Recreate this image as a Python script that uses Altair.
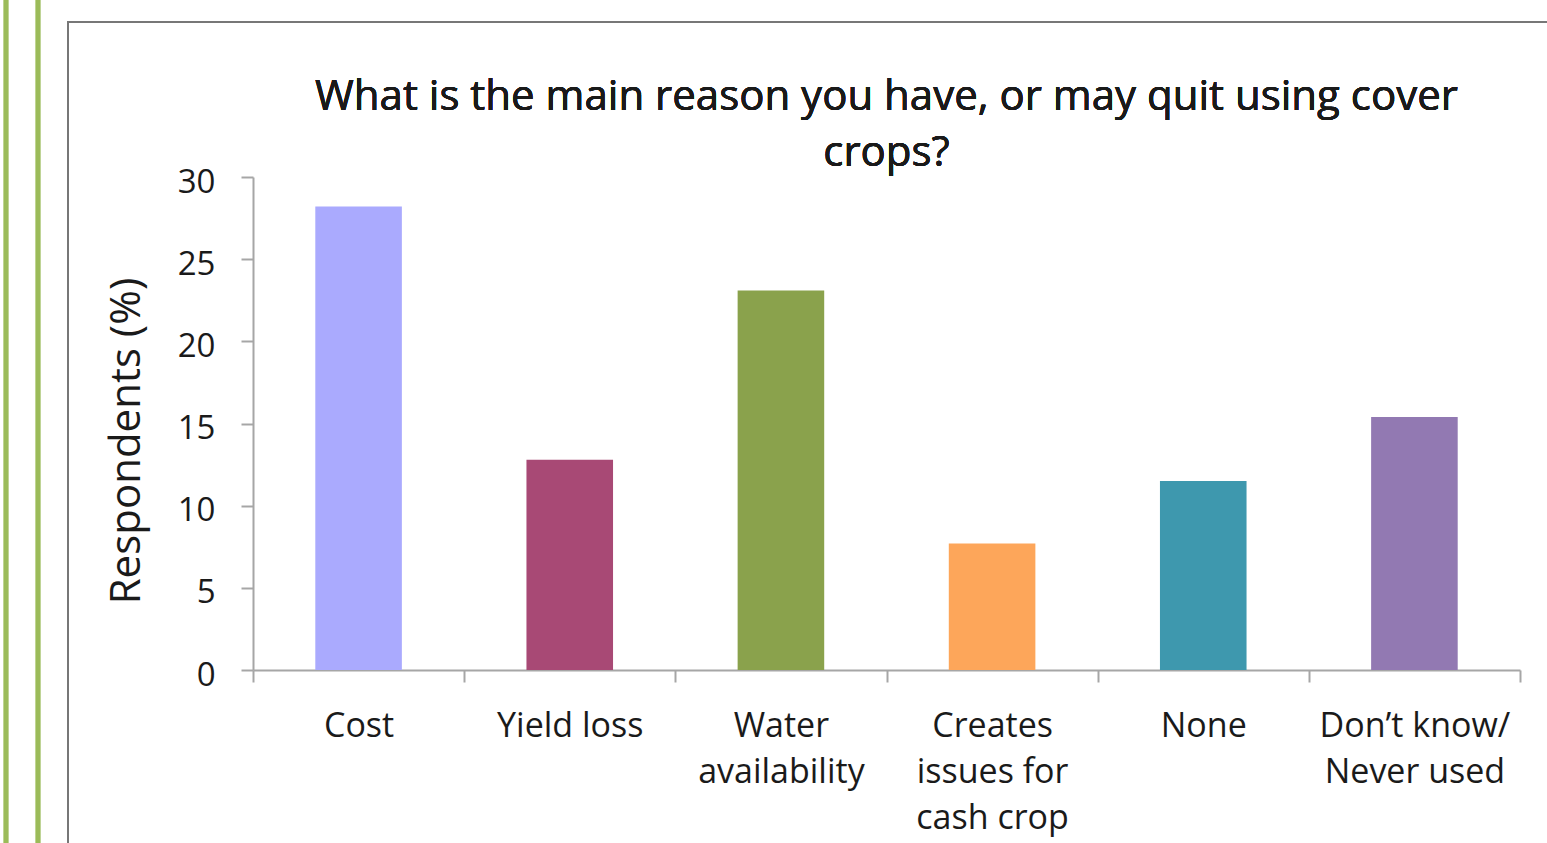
import altair as alt
import pandas as pd

# Survey answers: main reason for quitting (or possibly quitting) cover crops
categories = [
    "Cost",
    "Yield loss",
    "Water\navailability",
    "Creates\nissues for\ncash crop",
    "None",
    "Don\u2019t know/\nNever used",
]
respondents_pct = [28.2, 12.8, 23.1, 7.7, 11.5, 15.4]
bar_colors = ["#AAAAFE", "#A84975", "#8AA24C", "#FDA65A", "#3E98AE", "#9279B2"]
y_ticks = [0, 5, 10, 15, 20, 25, 30]

title_lines = ["What is the main reason you have, or may quit using cover", "crops?"]
y_title = "Respondents (%)"

FONT = "Open Sans"
W, H = 1267, 493
PAD = {"left": 253, "top": 177, "right": 1547 - 253 - W, "bottom": 843 - 177 - H}

df = pd.DataFrame({"reason": categories, "pct": respondents_pct})

x_enc = alt.X(
    "reason:N",
    sort=categories,
    scale=alt.Scale(paddingInner=0, paddingOuter=0),
    axis=alt.Axis(
        title=None,
        labelExpr="split(datum.label, '\\n')",
        labelAngle=0,
        labelFont=FONT,
        labelFontSize=34,
        labelColor="#1a1a1a",
        labelLineHeight=46,
        labelPadding=27,
        labelLimit=0,
        tickBand="extent",
        tickSize=12,
        tickColor="#A6A6A6",
        tickWidth=2,
        domainColor="#A6A6A6",
        domainWidth=2,
    ),
)

bars = alt.Chart(df).mark_bar(width=alt.RelativeBandSize(0.41)).encode(
    x=x_enc,
    y=alt.Y(
        "pct:Q",
        scale=alt.Scale(domain=[0, 30], nice=False),
        axis=alt.Axis(
            values=y_ticks,
            title=y_title,
            titleFont=FONT,
            titleFontSize=42,
            titleFontWeight="normal",
            titleColor="#1a1a1a",
            titleAngle=-90,
            titleX=-127,
            titleY=H / 2 + 17,
            titleAlign="center",
            titleBaseline="middle",
            labelFont=FONT,
            labelFontSize=33,
            labelColor="#1a1a1a",
            labelPadding=26,
            labelOffset=5,
            tickSize=12,
            tickColor="#A6A6A6",
            tickWidth=2,
            domainColor="#A6A6A6",
            domainWidth=2,
            grid=False,
        ),
    ),
    color=alt.Color("reason:N", sort=categories, scale=alt.Scale(domain=categories, range=bar_colors), legend=None),
)

# chart heading, centred over the plot
heading = alt.Chart(df).mark_text(
    font=FONT, fontSize=42, color="#1a1a1a", align="center", baseline="alphabetic", lineHeight=56
).encode(x=alt.value(W / 2), y=alt.value(110 - PAD["top"]), text=alt.value(title_lines))

# page decoration: green margin lines and the chart frame
green = "#9BBB59"
page_bottom = 843 - PAD["top"]
margin_lines = [
    alt.Chart(df).mark_rule(color=green, strokeWidth=4.3).encode(
        x=alt.value(x0), y=alt.value(-PAD["top"]), y2=alt.value(page_bottom)
    )
    for x0 in (6 - PAD["left"], 38 - PAD["left"])
]
frame_left = alt.Chart(df).mark_rule(color="#777777", strokeWidth=2).encode(
    x=alt.value(68 - PAD["left"]), y=alt.value(22 - PAD["top"]), y2=alt.value(page_bottom)
)
frame_top = alt.Chart(df).mark_rule(color="#777777", strokeWidth=2).encode(
    x=alt.value(67 - PAD["left"]), x2=alt.value(1547 - PAD["left"]), y=alt.value(22 - PAD["top"])
)

chart = alt.layer(
    *margin_lines, frame_left, frame_top, bars, heading
).properties(
    width=W,
    height=H,
    padding=PAD,
    autosize=alt.AutoSizeParams(type="none"),
).configure(background="white").configure_view(strokeWidth=0, stroke="transparent")

chart.save("out.html", embed_options={"renderer": "svg", "actions": False})
